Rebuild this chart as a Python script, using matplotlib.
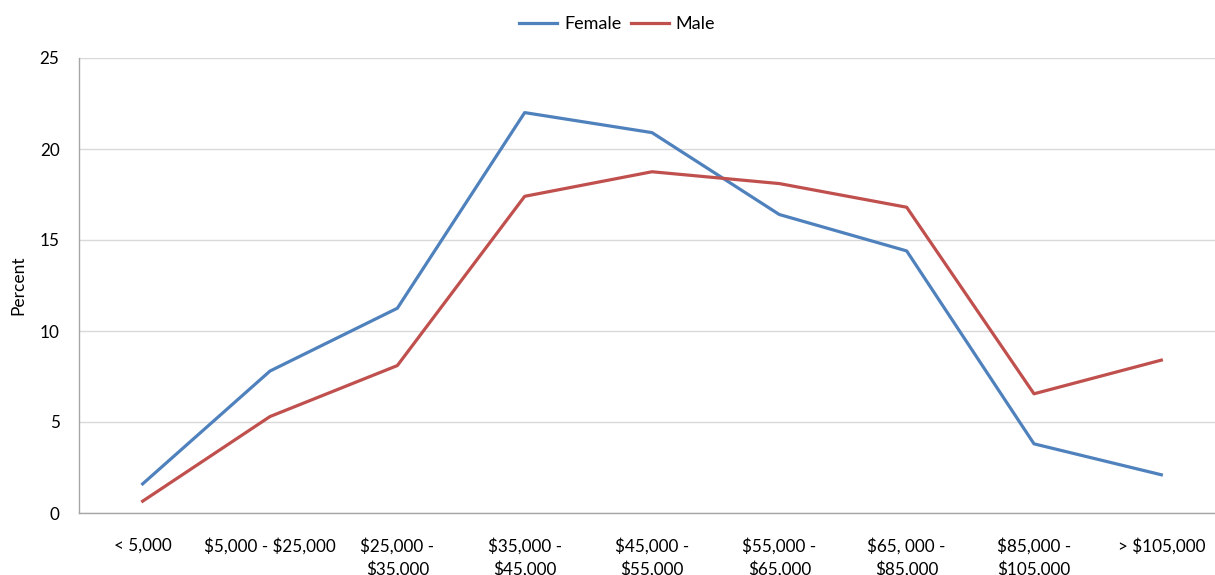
import matplotlib
matplotlib.use("Agg")
import matplotlib.pyplot as plt

categories = ["< 5,000", "$5,000 - $25,000", "$25,000 -\n$35,000", "$35,000 -\n$45,000",
              "$45,000 -\n$55,000", "$55,000 -\n$65,000", "$65, 000 -\n$85,000",
              "$85,000 -\n$105,000", "> $105,000"]
female = [1.6, 7.8, 11.25, 22.0, 20.9, 16.4, 14.4, 3.8, 2.1]
male = [0.65, 5.3, 8.1, 17.4, 18.75, 18.1, 16.8, 6.55, 8.4]
yticks = [0, 5, 10, 15, 20, 25]

plt.rcParams['font.family'] = ['Lato', 'DejaVu Sans']
plt.rcParams['text.parse_math'] = False
W, H = 1215, 575
fig = plt.figure(figsize=(W/100, H/100), dpi=100)
left, right, top, bottom = 79, 1225, 58, 513
ax = fig.add_axes([left/W, 1-bottom/H, (right-left)/W, (bottom-top)/H])
x = list(range(len(categories)))
ax.plot(x, female, color="#4F81BD", lw=2.3, label="Female", solid_joinstyle='round')
ax.plot(x, male, color="#C0504D", lw=2.3, label="Male", solid_joinstyle='round')
ax.set_xlim(-0.5, len(categories)-0.5)
ax.set_ylim(0, 25)
ax.set_yticks(yticks)
ax.set_xticks(x)
ax.set_xticklabels(categories, fontsize=12.3, linespacing=1.4)
ax.tick_params(axis='y', labelsize=12.3, length=0, pad=14)
ax.tick_params(axis='x', length=0, pad=18)
ax.grid(axis='y', color='#D9D9D9', lw=1)
ax.set_axisbelow(True)
for s in ['top', 'right']:
    ax.spines[s].set_visible(False)
for s in ['left', 'bottom']:
    ax.spines[s].set_color('#A6A6A6')
    ax.spines[s].set_linewidth(1)
ax.set_ylabel("Percent", fontsize=12.5, labelpad=10)
ax.yaxis.set_label_coords(-53/(right-left), 0.5)
fig.legend(loc='upper center', bbox_to_anchor=(0.508, 1.0), ncol=2, frameon=False,
           fontsize=13, handlelength=2.1, columnspacing=0.5, handletextpad=0.4)
fig.savefig("out.png", dpi=100)
